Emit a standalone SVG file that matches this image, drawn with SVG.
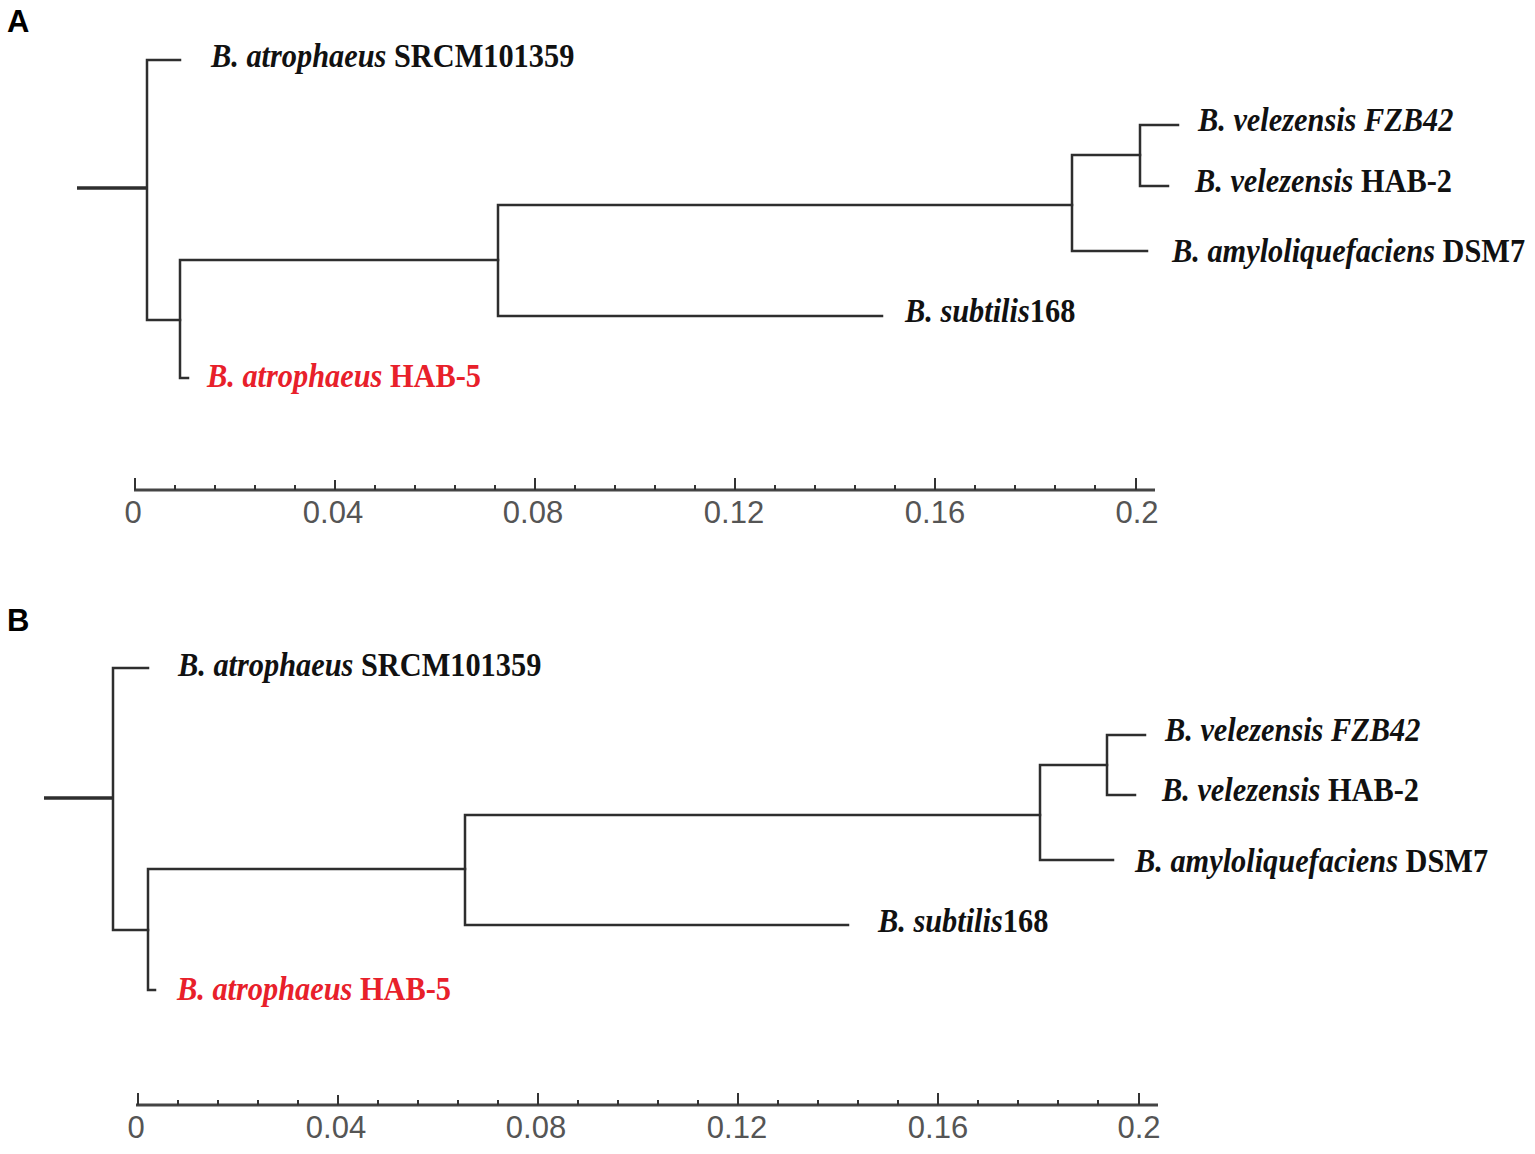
<svg xmlns="http://www.w3.org/2000/svg" width="1535" height="1154" viewBox="0 0 1535 1154">
<style>
.br{stroke:#2e2e2e;stroke-width:2.5;fill:none;stroke-linecap:square}
.root{stroke:#2e2e2e;stroke-width:3.5;fill:none}
.lab{font-family:"Liberation Serif","Times New Roman",serif;font-weight:bold;font-size:33px;fill:#111}
.red{fill:#e8202a}
.it{font-style:italic}
.pan{font-family:"Liberation Sans",Arial,sans-serif;font-weight:bold;font-size:31px;fill:#000}
.ax{stroke:#444;stroke-width:3;fill:none}
.tk{stroke:#333;stroke-width:2;fill:none}
.axl{font-family:"Liberation Sans",Arial,sans-serif;font-size:31px;fill:#555;text-anchor:middle}
</style>
<rect width="1535" height="1154" fill="#fff"/>
<text class="pan" x="7" y="32">A</text>
<text class="pan" x="7" y="631">B</text>

<g id="connectors-A">
<line class="root" x1="77" y1="188" x2="147" y2="188"/>
<path class="br" d="M180,60 H147 V320 H180"/>
<path class="br" d="M188,378 H180 V260 H498"/>
<path class="br" d="M1072,205 H498 V316 H882"/>
<path class="br" d="M1140,155 H1072 V251 H1147"/>
<path class="br" d="M1178,125 H1140 V186 H1168"/>
</g>
<g id="node-A-srcm" transform="translate(211,67) scale(0.92,1)"><text class="lab"><tspan class="it">B. atrophaeus</tspan> SRCM101359</text></g>
<g id="node-A-hab5" transform="translate(207,387) scale(0.92,1)"><text class="lab red"><tspan class="it">B. atrophaeus</tspan> HAB-5</text></g>
<g id="node-A-subtilis" transform="translate(905,322) scale(0.92,1)"><text class="lab"><tspan class="it">B. subtilis</tspan>168</text></g>
<g id="node-A-fzb42" transform="translate(1198,131) scale(0.92,1)"><text class="lab it">B. velezensis FZB42</text></g>
<g id="node-A-hab2" transform="translate(1195,192) scale(0.92,1)"><text class="lab"><tspan class="it">B. velezensis</tspan> HAB-2</text></g>
<g id="node-A-dsm7" transform="translate(1172,262) scale(0.92,1)"><text class="lab"><tspan class="it">B. amyloliquefaciens</tspan> DSM7</text></g>

<g id="axis-A">
<line class="ax" x1="134" y1="490" x2="1155" y2="490"/>
<path class="tk" d="M135,478V490 M335,480V490 M535,478V490 M735,478V490 M935,478V490 M1136,478V490
M175,485V490 M215,485V490 M255,485V490 M295,485V490
M375,485V490 M415,485V490 M455,485V490 M495,485V490
M575,485V490 M615,485V490 M655,485V490 M695,485V490
M775,485V490 M815,485V490 M855,485V490 M895,485V490
M975,485V490 M1015,485V490 M1055,485V490 M1095,485V490"/>
<text class="axl" x="133" y="523">0</text>
<text class="axl" x="333" y="523">0.04</text>
<text class="axl" x="533" y="523">0.08</text>
<text class="axl" x="734" y="523">0.12</text>
<text class="axl" x="935" y="523">0.16</text>
<text class="axl" x="1137" y="523">0.2</text>
</g>

<g id="connectors-B">
<line class="root" x1="44" y1="798" x2="113" y2="798"/>
<path class="br" d="M148,668 H113 V930 H148"/>
<path class="br" d="M155,990 H148 V869 H465"/>
<path class="br" d="M1040,815 H465 V925 H848"/>
<path class="br" d="M1107,765 H1040 V860 H1113"/>
<path class="br" d="M1145,735 H1107 V795 H1135"/>
</g>
<g id="node-B-srcm" transform="translate(178,676) scale(0.92,1)"><text class="lab"><tspan class="it">B. atrophaeus</tspan> SRCM101359</text></g>
<g id="node-B-hab5" transform="translate(177,1000) scale(0.92,1)"><text class="lab red"><tspan class="it">B. atrophaeus</tspan> HAB-5</text></g>
<g id="node-B-subtilis" transform="translate(878,932) scale(0.92,1)"><text class="lab"><tspan class="it">B. subtilis</tspan>168</text></g>
<g id="node-B-fzb42" transform="translate(1165,741) scale(0.92,1)"><text class="lab it">B. velezensis FZB42</text></g>
<g id="node-B-hab2" transform="translate(1162,801) scale(0.92,1)"><text class="lab"><tspan class="it">B. velezensis</tspan> HAB-2</text></g>
<g id="node-B-dsm7" transform="translate(1135,872) scale(0.92,1)"><text class="lab"><tspan class="it">B. amyloliquefaciens</tspan> DSM7</text></g>

<g id="axis-B">
<line class="ax" x1="136" y1="1105" x2="1158" y2="1105"/>
<path class="tk" d="M138,1093V1105 M338,1095V1105 M538,1093V1105 M738,1093V1105 M938,1093V1105 M1139,1093V1105
M178,1100V1105 M218,1100V1105 M258,1100V1105 M298,1100V1105
M378,1100V1105 M418,1100V1105 M458,1100V1105 M498,1100V1105
M578,1100V1105 M618,1100V1105 M658,1100V1105 M698,1100V1105
M778,1100V1105 M818,1100V1105 M858,1100V1105 M898,1100V1105
M978,1100V1105 M1018,1100V1105 M1058,1100V1105 M1098,1100V1105"/>
<text class="axl" x="136" y="1138">0</text>
<text class="axl" x="336" y="1138">0.04</text>
<text class="axl" x="536" y="1138">0.08</text>
<text class="axl" x="737" y="1138">0.12</text>
<text class="axl" x="938" y="1138">0.16</text>
<text class="axl" x="1139" y="1138">0.2</text>
</g>
</svg>
